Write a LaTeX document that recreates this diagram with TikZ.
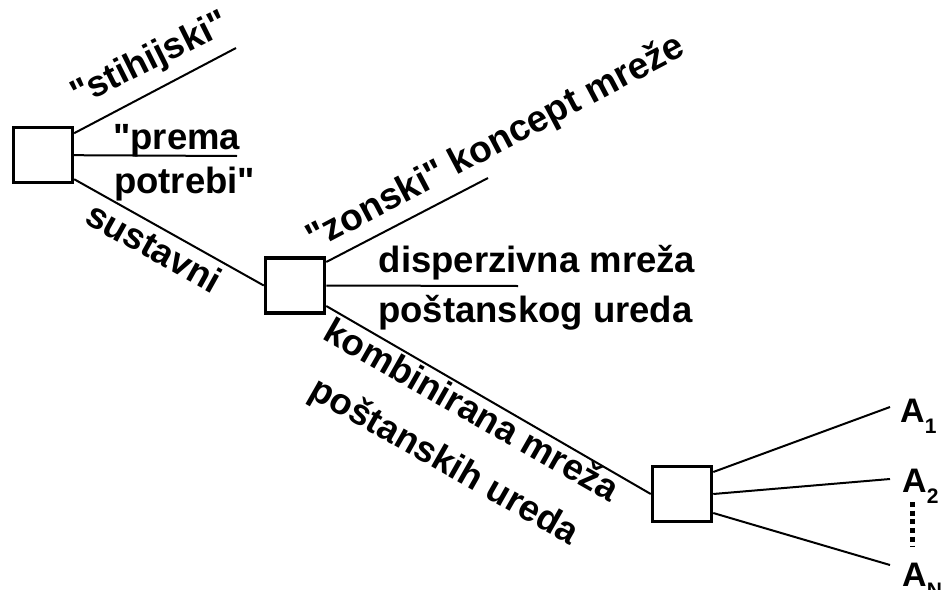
\documentclass[tikz,border=0pt]{standalone}
\usepackage{fontspec}
\setmainfont{Liberation Sans}[Ligatures=TeXOff]
\usepackage{tikz}
\newcommand{\Aidx}[1]{A\raisebox{-11pt}{\fontsize{21}{21}\selectfont #1}}

\begin{document}
\begin{tikzpicture}[x=1pt,y=-1pt,
    boxstyle/.style={rectangle, draw=black, line width=3.5pt, minimum width=59pt, minimum height=55pt, inner sep=0pt},
    textstyle/.style={font=\bfseries\fontsize{36.5}{40}\selectfont, inner sep=0pt},
    idxstyle/.style={font=\bfseries\fontsize{34}{38}\selectfont, inner sep=0pt, anchor=base west},
    linestyle/.style={line width=2pt}]
    \useasboundingbox (0,0) rectangle (942,589);
    % boxes
    \node (b1) at (42.9,155.2)[boxstyle]{};
    \node (b2) at (295,285.5)[boxstyle]{};
    \node (b3) at (682,494)[boxstyle]{};
    % free ends
    \coordinate (e1) at (236,48);
    \coordinate (e2) at (237,156);
    \coordinate (e3) at (488,178);
    \coordinate (e4) at (518,286);
    \coordinate (e5) at (890,407);
    \coordinate (e6) at (890,479);
    \coordinate (e7) at (890,565);
    \draw[linestyle]([yshift=22pt]b1.east)--(e1);
    \draw[linestyle](b1.east)--(e2);
    \draw[linestyle]([yshift=-24pt]b1.east)--(b2.west);
    \draw[linestyle]([yshift=23.5pt]b2.east)--(e3);
    \draw[linestyle](b2.east)--(e4);
    \draw[linestyle]([yshift=-20.5pt]b2.east)--(b3.west);
    \draw[linestyle]([yshift=22pt]b3.east)--(e5);
    \draw[linestyle](b3.east)--(e6);
    \draw[linestyle]([yshift=-19pt]b3.east)--(e7);
    % labels
    \node (t1) at (78,107)[textstyle, anchor=base west, rotate=26.5]{"stihijski"};
    \node (t2) at (113,149)[textstyle, anchor=base west]{"prema};
    \node (t3) at (114,193)[textstyle, anchor=base west]{potrebi"};
    \node (t4) at (83,222)[textstyle, anchor=base west, rotate=-29.2]{sustavni};
    \node (t5) at (314,251)[textstyle, font=\bfseries\fontsize{37.2}{40}\selectfont, anchor=base west, rotate=27.8]{"zonski" koncept mreže};
    \node (t6) at (378.5,272)[textstyle, anchor=base west]{disperzivna mreža};
    \node (t7) at (378,322)[textstyle, anchor=base west]{poštanskog ureda};
    \node (t8) at (465.7,420.6)[textstyle, anchor=base, rotate=-29.7]{kombinirana mreža};
    \node (t9) at (438.8,471)[textstyle, anchor=base, rotate=-29.7]{poštanskih ureda};
    \node (a1) at (900,422)[idxstyle]{\Aidx{1}};
    \node (a2) at (902,492)[idxstyle]{\Aidx{2}};
    \node (an) at (902,586)[idxstyle]{\Aidx{N}};
    \coordinate (d1) at (912,502);
    \coordinate (d2) at (912,546);
    \draw[line width=5pt, dash pattern=on 5pt off 3.7pt](d1)--(d2);
\end{tikzpicture}
\end{document}
